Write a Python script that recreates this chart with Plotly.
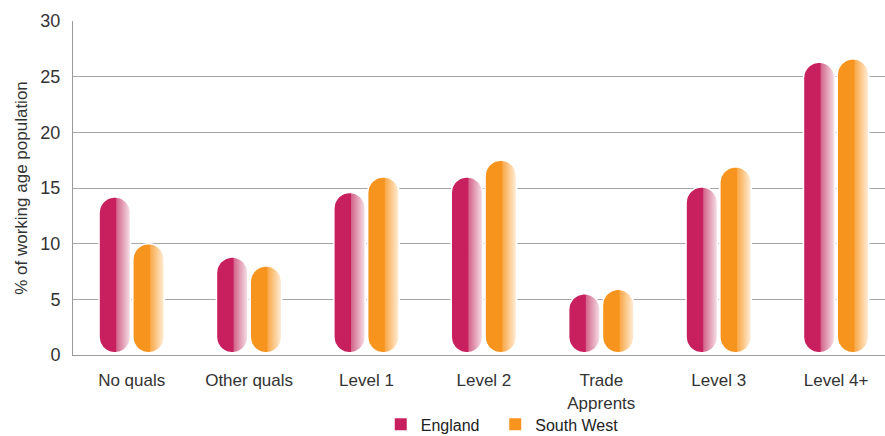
import numpy as np
import plotly.graph_objects as go

# Highest qualification held, % of working age population
categories = ["No quals", "Other quals", "Level 1", "Level 2",
              "Trade<br>Apprents", "Level 3", "Level 4+"]
england = [14.2, 8.8, 14.6, 16.0, 5.5, 15.1, 26.3]
south_west = [10.0, 8.0, 16.0, 17.5, 5.9, 16.9, 26.6]
y_ticks = [0, 5, 10, 15, 20, 25, 30]

# Figure geometry
W, H = 885, 436
M_L, M_R, M_T, M_B = 73, 0, 21, 81
Y_RANGE = [0, 30]
CAT_PX = 117.4                         # pixel width of one category slot
plot_w = W - M_L - M_R
plot_h = H - M_T - M_B
x_range = [-0.5, plot_w / CAT_PX - 0.5]
px_per_y = plot_h / (Y_RANGE[1] - Y_RANGE[0])

BAR_W = 31.5 / CAT_PX                  # bar width in category units
OFFSET = 16.9 / CAT_PX                 # centre offset of each bar in a pair
BASE = 0.2                             # pill bottom sits just above zero

series = [
    ("England", england, -OFFSET, "#c8205f", "legend",
     [[0, "#c8205f"], [0.53, "#c8205f"], [0.56, "#d4668c"], [1, "#f6e4ea"]]),
    ("South West", south_west, OFFSET, "#f7941d", "legend2",
     [[0, "#f7941d"], [0.53, "#f7941d"], [0.56, "#f9a94a"], [1, "#fff0dc"]]),
]


def pill(cx, top, bottom):
    """Outline of a capsule-shaped bar in data coordinates."""
    r_x = BAR_W / 2
    r_y = (BAR_W * CAT_PX / 2) / px_per_y
    t = np.linspace(0, np.pi, 24)
    top_x = cx + r_x * np.cos(t)
    top_y = (top - r_y) + r_y * np.sin(t)
    bot_x = cx - r_x * np.cos(t)
    bot_y = (bottom + r_y) - r_y * np.sin(t)
    xs = np.concatenate([top_x, bot_x, top_x[:1]])
    ys = np.concatenate([top_y, bot_y, top_y[:1]])
    return xs, ys


fig = go.Figure()

for name, values, off, color, leg, scale in series:
    for i, v in enumerate(values):
        xs, ys = pill(i + off, v, BASE)
        fig.add_trace(go.Scatter(
            x=xs, y=ys, mode="lines", fill="toself",
            line=dict(color="white", width=1.5),
            fillgradient=dict(type="horizontal", colorscale=scale),
            hoverinfo="skip", showlegend=False,
        ))
    # legend entry
    fig.add_trace(go.Scatter(
        x=[None], y=[None], mode="markers", name=name, legend=leg,
        marker=dict(symbol="square", size=11, color=color),
    ))

font_family = "Liberation Sans, Arial, sans-serif"
legend_style = dict(orientation="h", xanchor="left", y=-0.157, yanchor="top",
                    bgcolor="rgba(0,0,0,0)",
                    font=dict(size=16, color="#222222"),
                    itemsizing="constant")
fig.update_layout(
    width=W, height=H,
    margin=dict(l=M_L, r=M_R, t=M_T, b=M_B, pad=0, autoexpand=False),
    paper_bgcolor="white", plot_bgcolor="white",
    font=dict(family=font_family, size=16, color="#333333"),
    showlegend=True,
    legend=dict(x=0.379, **legend_style),
    legend2=dict(x=0.520, **legend_style),
    xaxis=dict(
        range=x_range, tickmode="array",
        tickvals=list(range(len(categories))), ticktext=categories,
        showgrid=False, zeroline=False, automargin=False,
        showline=True, linecolor="#9a9a9a", linewidth=1,
        ticks="outside", ticklen=10, tickcolor="rgba(0,0,0,0)",
        tickfont=dict(size=17, color="#333333"),
    ),
    yaxis=dict(
        range=Y_RANGE, tickvals=y_ticks, automargin=False,
        showgrid=True, gridcolor="#a6a6a6", gridwidth=1,
        zeroline=False,
        showline=True, linecolor="#9a9a9a", linewidth=1,
        ticks="outside", ticklen=8, tickcolor="rgba(0,0,0,0)",
        tickfont=dict(size=18, color="#333333"),
        title=dict(text="% of working age population",
                   font=dict(size=17, color="#333333"), standoff=8),
    ),
)

fig.write_html("out.html")
